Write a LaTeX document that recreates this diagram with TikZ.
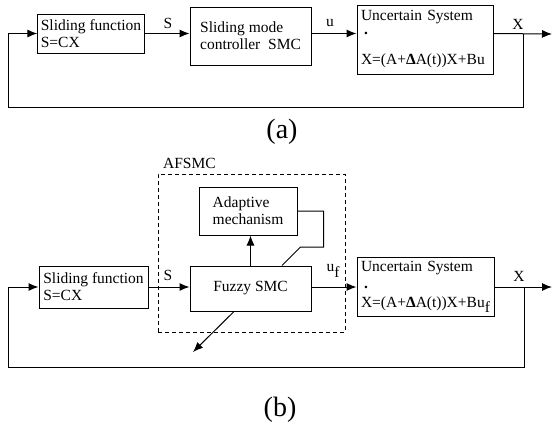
\documentclass[tikz,border=0pt]{standalone}
\usepackage{fontspec}
\setmainfont{Liberation Serif}
\usetikzlibrary{positioning,arrows.meta}

\begin{document}
\begin{tikzpicture}[x=1pt,y=-1pt,line width=1pt,
	every node/.style={font=\fontsize{15.5}{17}\selectfont},
	blk/.style={draw,rectangle,align=left,inner sep=3pt},
	arr/.style={-{Latex[length=10pt,width=8pt]}},
	captxt/.style={font=\fontsize{28}{30}\selectfont}]
	\useasboundingbox (0,0) rectangle (553,431);

			%blocks (a)
			\node [blk,minimum width=106,minimum height=39] (sf1) at (91,33.5) {Sliding function\\S=CX};
			\node [blk,minimum width=121,minimum height=58] (smc1) at (250.5,36) {Sliding mode\\controller\ \ SMC};
			\node [blk,minimum width=136,minimum height=69,text width=128,inner xsep=4] (us1) at (425,39.5) {Uncertain System\\[-3pt]\hspace*{3.2pt}{\bfseries .}\\[13pt]X=(A+{\bfseries Δ}A(t))X+Bu};

			%signals (a)
			\node (s1) at (168,23) {S};
			\node (u1) at (330,23) {u};
			\node (x1lab) at (518,24) {X};
			\coordinate (x1) at (523,34);
			\coordinate (out1) at (552,34);
			\coordinate (fb1) at (8,107);

			%edges (a)
			\draw[arr] (sf1.east) -- (sf1.east -| smc1.west);
			\draw[arr] (smc1.east |- sf1) -- (us1.west |- sf1);
			\draw[arr] (us1.east |- sf1) -- (out1);
			\draw[arr] (x1) |- (fb1) |- (sf1.west);

			\node [captxt] (capa) at (282,132) {(a)};

			%blocks (b)
			\node [draw,dashed,dash pattern=on 4pt off 3pt,line width=.8pt,minimum width=187,minimum height=158,
				label={[anchor=south west,inner sep=1pt,xshift=4pt,yshift=3pt]north west:AFSMC}] (afsmc) at (251.5,253) {};
			\node [blk,minimum width=109,minimum height=42] (sf2) at (93.5,287) {Sliding function\\S=CX};
			\node [blk,minimum width=121,minimum height=45,align=center] (fsmc) at (250.5,288.5) {Fuzzy SMC};
			\node [blk,minimum width=98,minimum height=48] (adm) at (248,211) {Adaptive\\mechanism};
			\node [blk,minimum width=137,minimum height=59,text width=129,inner xsep=4] (us2) at (425.5,286.5) {Uncertain System\\\hspace*{3.2pt}{\bfseries .}\\[2pt]X=(A+{\bfseries Δ}A(t))X+Bu\raisebox{-5pt}{f}};

			%signals (b)
			\node (s2) at (168,275) {S};
			\node (uf) at (333,271) {u\raisebox{-6pt}{f}};
			\node (x2lab) at (519,276) {X};
			\coordinate (x2) at (524,287);
			\coordinate (out2) at (552,287);
			\coordinate (fb2) at (8,367);
			\coordinate (dist) at (193,352);

			%edges (b)
			\draw[arr] (sf2.east) -- (sf2.east -| fsmc.west);
			\draw[arr] (fsmc.east |- sf2) -- (us2.west |- sf2);
			\draw[arr] (us2.east |- sf2) -- (out2);
			\draw[arr] (x2) |- (fb2) |- (sf2.west);
			\draw[arr] (fsmc.north) -- (adm.south -| fsmc.north);
			\draw (adm.east) -| ++(26,36) -- ++(-23,0) -- ([xshift=31.5pt]fsmc.north);
			\draw[arr] ([xshift=-16.5pt]fsmc.south) -- (dist);

			\node [captxt] (capb) at (280,410) {(b)};
\end{tikzpicture}
\end{document}
